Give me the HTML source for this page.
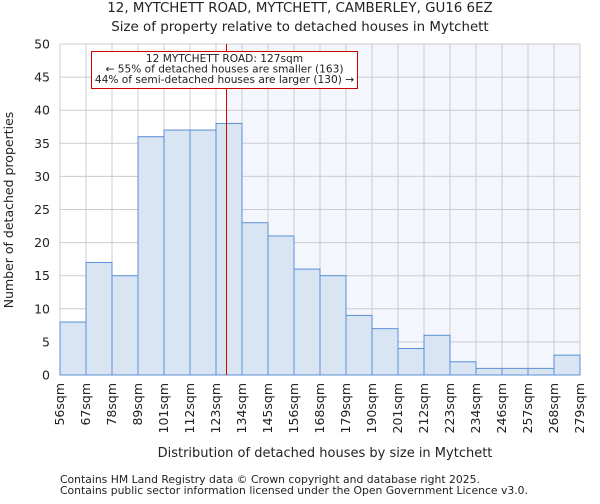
<!DOCTYPE html>
<html><head><meta charset="utf-8"><style>
body{margin:0;background:#fff;font-family:"DejaVu Sans","Liberation Sans",sans-serif}
svg text{font-family:"DejaVu Sans","Liberation Sans",sans-serif;fill:#222}
</style></head><body>
<svg id="c" width="600" height="500">
<text x="300" y="12" font-size="13.4" text-anchor="middle">12, MYTCHETT ROAD, MYTCHETT, CAMBERLEY, GU16 6EZ</text>
<text x="300" y="31" font-size="13.4" text-anchor="middle">Size of property relative to detached houses in Mytchett</text>
<g id="g"></g>
<text x="325" y="457" font-size="13" text-anchor="middle">Distribution of detached houses by size in Mytchett</text>
<text transform="translate(13,210) rotate(-90)" font-size="12.5" text-anchor="middle">Number of detached properties</text>
<text x="60" y="483" font-size="10.8">Contains HM Land Registry data © Crown copyright and database right 2025.</text>
<text x="60" y="494" font-size="10.8">Contains public sector information licensed under the Open Government Licence v3.0.</text>
</svg>
<script>
const tickLabels=["56sqm","67sqm","78sqm","89sqm","101sqm","112sqm","123sqm","134sqm","145sqm","156sqm","168sqm","179sqm","190sqm","201sqm","212sqm","223sqm","234sqm","246sqm","257sqm","268sqm","279sqm"];
const counts=[8,17,15,36,37,37,38,23,21,16,15,9,7,4,6,2,1,1,1,3];
const yTicks=[0,5,10,15,20,25,30,35,40,45,50];
const marker=127;
const X0=60,X1=580,Y0=375,Y1=44;
const bw=(X1-X0)/counts.length;
const ys=v=>Y0-(v/50)*(Y0-Y1);
const xi=i=>X0+i*bw;
function xv(v){const e=tickLabels.map(t=>parseFloat(t));for(let i=0;i<e.length-1;i++){if(v>=e[i]&&v<=e[i+1])return xi(i)+(v-e[i])/(e[i+1]-e[i])*bw;}return X1;}
const g=document.getElementById('g');const NS="http://www.w3.org/2000/svg";
function mk(t,a){const e=document.createElementNS(NS,t);for(const k in a)e.setAttribute(k,a[k]);g.appendChild(e);return e;}
const mx=Math.round(xv(marker)+1)+0.5;
let r=mk('rect',{x:mx,y:Y1,width:X1-mx,height:Y0-Y1,fill:'#f3f6fd'});


for(let i=0;i<tickLabels.length;i++){let l=mk('line',{x1:xi(i),x2:xi(i),y1:Y1,y2:Y0,stroke:'#cccccc'});


let t=mk('text',{transform:`translate(${xi(i)+4},${Y0+8}) rotate(-90)`,'font-size':12.5,'text-anchor':'end'});t.textContent=tickLabels[i];

}
yTicks.forEach(v=>{let l=mk('line',{x1:X0,x2:X1,y1:ys(v),y2:ys(v),stroke:'#cccccc'});


let t=mk('text',{x:X0-10,y:ys(v)+4.5,'font-size':12.5,'text-anchor':'end'});t.textContent=v;

});
counts.forEach((c,i)=>{let b=mk('rect',{x:xi(i),y:ys(c),width:bw,height:Y0-ys(c),fill:'#dae5f4',stroke:'#5b8fd6','stroke-width':1});

});
let ml=mk('line',{x1:mx,x2:mx,y1:Y1,y2:Y0,stroke:'#dd0000','stroke-width':1});


let bx=mk('rect',{x:91.5,y:51.5,width:266,height:37,fill:'#fff',stroke:'#cc0000'});


["12 MYTCHETT ROAD: 127sqm","← 55% of detached houses are smaller (163)","44% of semi-detached houses are larger (130) →"].forEach((s,i)=>{let t=mk('text',{x:224.5,y:62+i*10.5,'font-size':10.6,'text-anchor':'middle'});t.textContent=s;

});
</script>
</body></html>
